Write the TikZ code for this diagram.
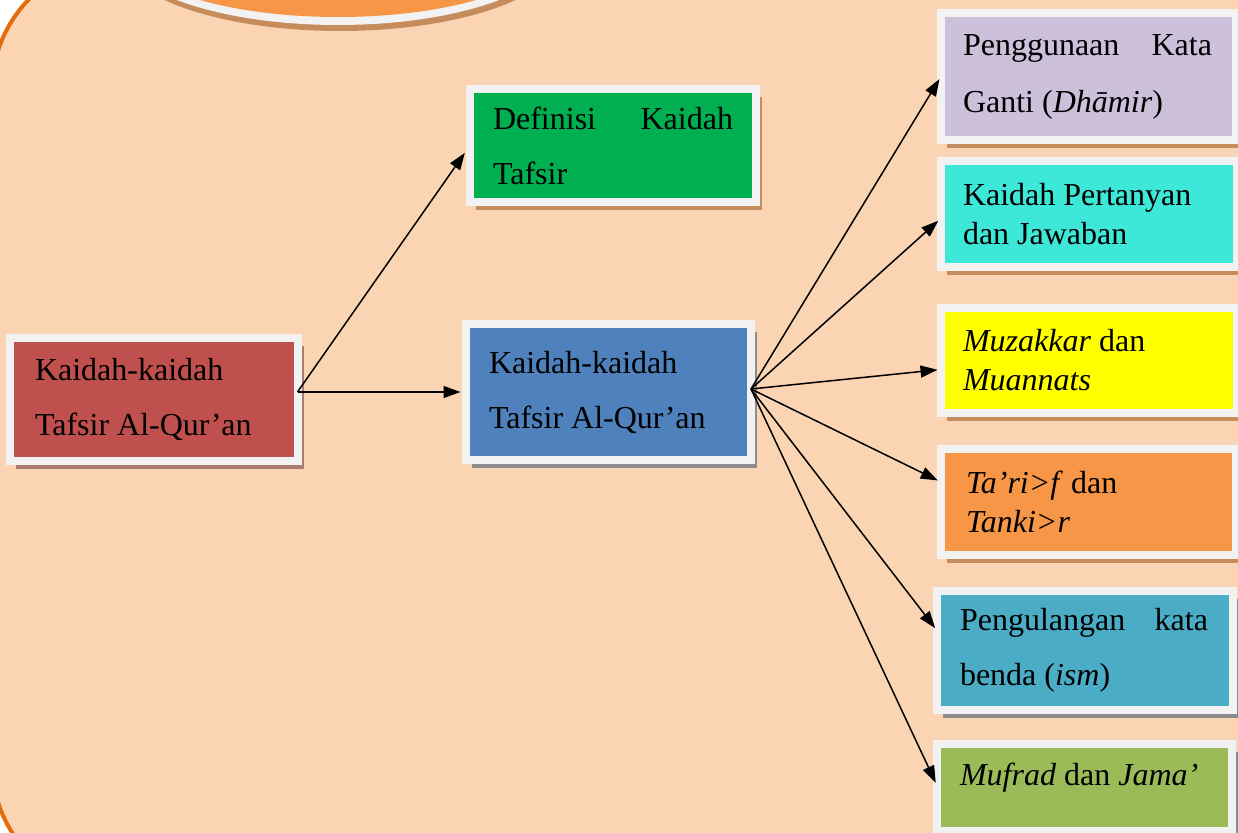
\documentclass[tikz,border=0pt]{standalone}
\usepackage{fontspec}
\setmainfont{Liberation Serif}
\usetikzlibrary{arrows.meta,shadows}
\definecolor{latar}{HTML}{FBD4B4}
\definecolor{jingga}{HTML}{E46C0A}
\definecolor{bingkai}{HTML}{F2F2F2}
\definecolor{cokelat}{HTML}{C68C5C}
\definecolor{abu}{HTML}{8C8C8C}
\definecolor{merahbayang}{HTML}{AE7C6C}
\definecolor{merah}{HTML}{C0504D}
\definecolor{hijau}{HTML}{00B050}
\definecolor{biru}{HTML}{4F81BD}
\definecolor{ungu}{HTML}{CCC0DA}
\definecolor{tosca}{HTML}{3DE8D8}
\definecolor{kuning}{HTML}{FFFF00}
\definecolor{oranye}{HTML}{F79646}
\definecolor{birumuda}{HTML}{4BACC6}
\definecolor{zaitun}{HTML}{9BBB59}

\begin{document}
\begin{tikzpicture}[x=1pt,y=-1pt,
  kotak/.style={fill=#1,draw=bingkai,line width=8pt,outer sep=0pt,inner ysep=0pt,align=flush left},
  bayang/.style={drop shadow={shadow xshift=6pt,shadow yshift=-8pt,fill=#1,opacity=1}},
  dobel/.style={font=\fontsize{32}{55}\selectfont},
  tunggal/.style={font=\fontsize{32}{39}\selectfont},
  panah/.style={-{Triangle[length=17pt,width=12pt]},line width=1.5pt,shorten >=3pt}]
\useasboundingbox (0,0) rectangle (1238,832);
\clip (0,0) rectangle (1238,832);
\fill[white] (0,0) rectangle (1238,832);
\draw[jingga,line width=4pt,fill=latar,rounded corners=130pt] (-8,-40) rectangle (1300,893);
\fill[cokelat] (340,-49) ellipse (222 and 80);
\fill[bingkai] (338,-55) ellipse (222 and 80);
\fill[oranye] (338,-55) ellipse (214 and 72);

\node[kotak=merah,bayang=merahbayang,dobel,minimum width=287.5pt,minimum height=123pt,text width=237.5pt,inner xsep=25pt] (asal) at (153.75,399) {Kaidah-kaidah\\Tafsir Al-Qur’an};
\node[kotak=hijau,bayang=cokelat,dobel,minimum width=286pt,minimum height=113pt,text width=240pt,inner xsep=23pt] (defn) at (613,145.5) {\makebox[240pt]{Definisi\hfill Kaidah}\\Tafsir};
\node[kotak=biru,bayang=abu,dobel,minimum width=285.5pt,minimum height=136pt,text width=238.5pt,inner xsep=23.5pt] (kaidah) at (608.25,392) {Kaidah-kaidah\\Tafsir Al-Qur’an};

\node[kotak=ungu,bayang=cokelat,font=\fontsize{32}{57}\selectfont,minimum width=295pt,minimum height=127pt,text width=251pt,inner xsep=22pt] (dhamir) at (1088.5,76.5) {\makebox[249pt]{Penggunaan\hfill Kata}\\Ganti (\textit{Dhāmir})};
\node[kotak=tosca,bayang=cokelat,tunggal,minimum width=296.5pt,minimum height=105.5pt,text width=251.5pt,inner xsep=22.5pt] (tanya) at (1088.75,213.75) {Kaidah Pertanyan\\dan Jawaban};
\node[kotak=kuning,bayang=cokelat,tunggal,minimum width=296.5pt,minimum height=105pt,text width=251.5pt,inner xsep=22.5pt] (jenis) at (1088.75,360.5) {\textit{Muzakkar} dan\\\textit{Muannats}};
\node[kotak=oranye,bayang=cokelat,tunggal,minimum width=295.5pt,minimum height=105.5pt,text width=244.5pt,inner xsep=25.5pt] (takrif) at (1088.25,501.75) {\textit{Ta’ri>f} dan\\\textit{Tanki>r}};
\node[kotak=birumuda,bayang=abu,dobel,minimum width=295.5pt,minimum height=119pt,text width=249.5pt,inner xsep=23pt] (ulang) at (1084.75,650.5) {\makebox[248pt]{Pengulangan\hfill kata}\\benda (\textit{ism})};
\node[kotak=zaitun,bayang=abu,dobel,minimum width=295pt,minimum height=87pt,text width=249pt,inner xsep=23pt,text height=22pt,text depth=27pt] (jamak) at (1084.5,787.5) {\textit{Mufrad}~dan~\textit{Jama’}};

\draw[panah,shorten >=9pt] ([yshift=7pt]asal.east) -- (defn.west);
\draw[panah,shorten >=5pt] ([yshift=7pt]asal.east) -- (kaidah.west);
\draw[panah] ([yshift=3pt]kaidah.east) -- (dhamir.west);
\draw[panah] ([yshift=3pt]kaidah.east) -- ([yshift=-5pt]tanya.west);
\draw[panah] ([yshift=3pt]kaidah.east) -- ([yshift=-9pt]jenis.west);
\draw[panah] ([yshift=3pt]kaidah.east) -- ([yshift=20pt]takrif.west);
\draw[panah] ([yshift=3pt]kaidah.east) -- ([yshift=20pt]ulang.west);
\draw[panah] ([yshift=3pt]kaidah.east) -- ([yshift=2pt]jamak.west);
\end{tikzpicture}
\end{document}
